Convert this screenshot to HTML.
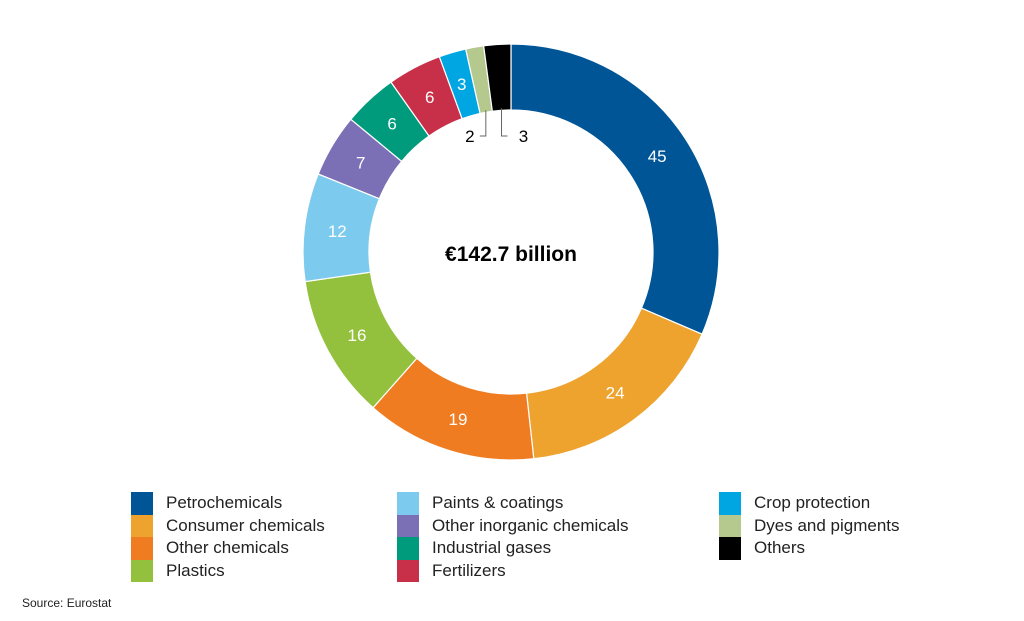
<!DOCTYPE html>
<html><head><meta charset="utf-8"><style>
body{margin:0;background:#fff;font-family:"Liberation Sans",sans-serif;}
.wrap{position:relative;width:1024px;height:621px;overflow:hidden;}
.lg{position:absolute;font-size:17px;color:#222;line-height:22px;}
.sw{position:absolute;width:22px;height:22.5px;}
</style></head><body>
<div class="wrap">
<svg id="donut" width="1024" height="621" style="position:absolute;left:0;top:0"></svg>
<div id="legend"></div>
<div style="position:absolute;left:22px;top:596px;font-size:12px;color:#222">Source: Eurostat</div>
</div>
<script>
const categories=["Petrochemicals","Consumer chemicals","Other chemicals","Plastics","Paints & coatings","Other inorganic chemicals","Industrial gases","Fertilizers","Crop protection","Dyes and pigments","Others"];
const values=[45,24,19,16,12,7,6,6,3,2,3];
const colors=["#005596","#eda32e","#f07c22","#94c13d","#7ccbee","#7b6fb5","#009b7c","#c8304a","#00a6e2","#b5c98e","#000000"];
const centerLabel="€142.7 billion";
const NS="http://www.w3.org/2000/svg";
const svg=document.getElementById('donut');
const cx=511,cy=252,R=208,r=142;
const total=values.reduce((a,b)=>a+b,0);
function pt(a,rad){return [cx+rad*Math.sin(a),cy-rad*Math.cos(a)];}
let acc=0;
values.forEach((v,i)=>{
  const a0=acc/total*2*Math.PI; acc+=v; const a1=acc/total*2*Math.PI;
  const large=(a1-a0)>Math.PI?1:0;
  const p0=pt(a0,R),p1=pt(a1,R),q1=pt(a1,r),q0=pt(a0,r);
  const p=document.createElementNS(NS,'path');
  p.setAttribute('d',`M${p0}A${R},${R} 0 ${large} 1 ${p1}L${q1}A${r},${r} 0 ${large} 0 ${q0}Z`);
  p.setAttribute('fill',colors[i]);p.setAttribute('stroke','#fff');p.setAttribute('stroke-width','1.2');
  
  
  svg.appendChild(p);
  const am=(a0+a1)/2;
  const t=document.createElementNS(NS,'text');
  t.setAttribute('font-size','17');t.setAttribute('text-anchor','middle');
  t.setAttribute('font-family','Liberation Sans, sans-serif');
  if(v>=3 && i!==values.length-1){
    const m=pt(am,(R+r)/2);
    t.setAttribute('x',m[0]);t.setAttribute('y',m[1]+6);t.setAttribute('fill','#fff');
  } else {
    const b=pt(am,r+2);
    const left=i===values.length-2;
    const ex=left?b[0]-6:b[0]+6;
    const l=document.createElementNS(NS,'polyline');
    l.setAttribute('points',`${b[0]},${b[1]} ${b[0]},${cy-116} ${ex},${cy-116}`);
    l.setAttribute('fill','none');l.setAttribute('stroke','#666');l.setAttribute('stroke-width','1');
    
    
    svg.appendChild(l);
    t.setAttribute('x',left?ex-10:ex+16);t.setAttribute('y',cy-110);t.setAttribute('fill','#000');
  }
  t.textContent=v;
  
  
  svg.appendChild(t);
});
const c=document.createElementNS(NS,'text');
c.setAttribute('x',cx);c.setAttribute('y',cy+9);c.setAttribute('text-anchor','middle');
c.setAttribute('font-size','21');c.setAttribute('font-weight','bold');c.setAttribute('font-family','Liberation Sans, sans-serif');
c.textContent=centerLabel;


svg.appendChild(c);
const lg=document.getElementById('legend');
const colX=[131,397,719];
categories.forEach((n,i)=>{
  const col=i<4?0:(i<8?1:2); const row=i<4?i:(i<8?i-4:i-8);
  const y=492+row*22.5;
  const s=document.createElement('div');s.className='sw';
  s.style.left=colX[col]+'px';s.style.top=y+'px';s.style.background=colors[i];
  
  
  lg.appendChild(s);
  const t=document.createElement('div');t.className='lg';
  t.style.left=(colX[col]+35)+'px';t.style.top=(y)+'px';t.textContent=n;
  
  
  lg.appendChild(t);
});
</script>
</body></html>
